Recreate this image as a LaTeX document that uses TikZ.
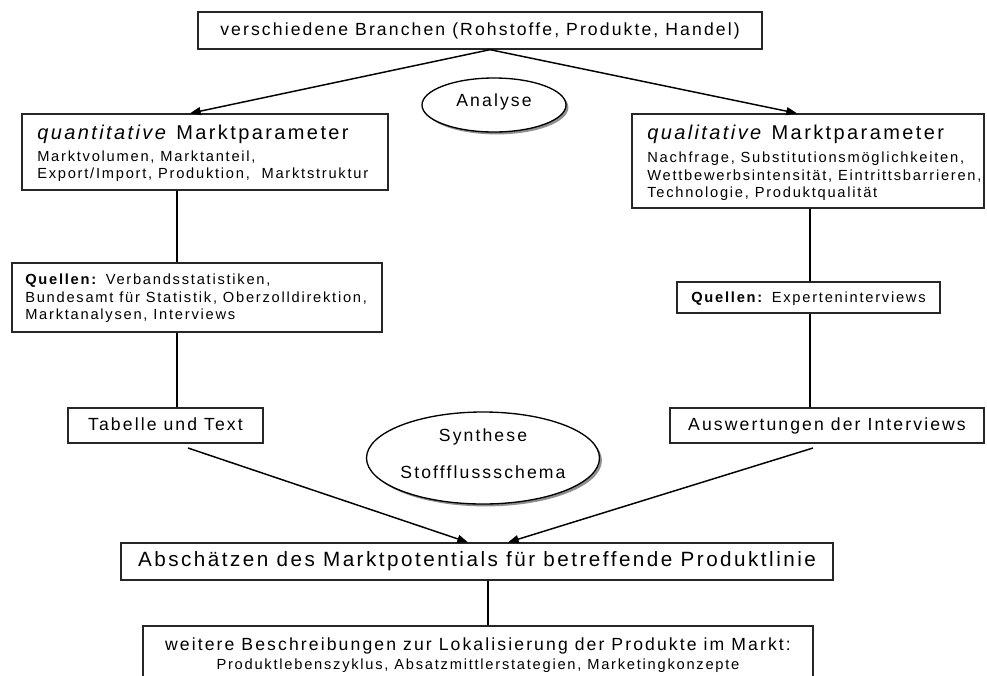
\documentclass[tikz,border=0pt]{standalone}
\usepackage{fontspec}
\setmainfont{Liberation Sans}[LetterSpace=12]
\usetikzlibrary{shapes.geometric,shadows,arrows.meta}

\begin{document}
\begin{tikzpicture}[x=0.75pt,y=-0.75pt,
  box/.style={draw=black!85,line width=1pt,rectangle,inner sep=0pt,fill=white,
              text height=0.72em,text depth=0pt},
  oval/.style={draw=black,line width=1pt,ellipse,inner sep=0pt,fill=white,
              drop shadow={shadow xshift=1.8pt,shadow yshift=-1.8pt,fill=black!55,opacity=0.8}},
  conn/.style={line width=1.1pt,black},
  arr/.style={conn,-{Triangle[length=8pt,width=6pt]}},
  tl/.style={inner sep=0pt,anchor=west,text height=0.72em,text depth=0pt},
  tc/.style={inner sep=0pt,anchor=center,text height=0.72em,text depth=0pt},
  fsmall/.style={font=\fontsize{11pt}{13pt}\selectfont},
  fmid/.style={font=\fontsize{13.2pt}{16pt}\selectfont},
  fbig/.style={font=\fontsize{15pt}{18pt}\selectfont},
  fhead/.style={font=\fontsize{15.5pt}{18pt}\selectfont},
]
\useasboundingbox (0,0) rectangle (987,675);
\clip (0,0) rectangle (987,675);

% top: industries
\node[box,fmid,minimum width=564*0.75pt,minimum height=37*0.75pt] (top) at (480,30.5)
  {verschiedene Branchen (Rohstoffe, Produkte, Handel)};

% analysis branch, left
\node[box,minimum width=366*0.75pt,minimum height=76*0.75pt] (quant) at (205,152) {};
\node[tl,fbig] (quantT) at (37,135) {\textit{quantitative} Marktparameter};
\node[tl,fsmall] (quantA) at (37,157) {Marktvolumen, Marktanteil,};
\node[tl,fsmall] (quantB) at (37,174) {Export/Import, Produktion, \ Marktstruktur};

\node[box,minimum width=370*0.75pt,minimum height=69*0.75pt] (qL) at (197,297.5) {};
\node[tl,fsmall] (qLA) at (25,280) {\textbf{Quellen:} Verbandsstatistiken,};
\node[tl,fsmall] (qLB) at (25,298) {Bundesamt für Statistik, Oberzolldirektion,};
\node[tl,fsmall] (qLC) at (25,315) {Marktanalysen, Interviews};

\node[box,fmid,minimum width=195*0.75pt,minimum height=35*0.75pt] (tab) at (165.5,425.5)
  {Tabelle und Text};

% analysis branch, right
\node[box,minimum width=352*0.75pt,minimum height=94*0.75pt] (qual) at (808,161) {};
\node[tl,fbig] (qualT) at (647,135) {\textit{qualitative} Marktparameter};
\node[tl,fsmall] (qualA) at (647,158) {Nachfrage, Substitutionsmöglichkeiten,};
\node[tl,fsmall] (qualB) at (647,176) {Wettbewerbsintensität, Eintrittsbarrieren,};
\node[tl,fsmall] (qualC) at (647,193) {Technologie, Produktqualität};

\node[box,fsmall,minimum width=263*0.75pt,minimum height=31*0.75pt] (qR) at (808.5,297.5)
  {\textbf{Quellen:} Experteninterviews};

\node[box,fmid,minimum width=314*0.75pt,minimum height=35*0.75pt] (ausw) at (827,425.5)
  {Auswertungen der Interviews};

% labels of the two phases
\node[oval,minimum width=144*0.75pt,minimum height=54*0.75pt] (ana) at (494,105) {};
\node[tc,fmid] (anaT) at (494,102) {Analyse};

\node[oval,minimum width=233*0.75pt,minimum height=92*0.75pt] (syn) at (483,458) {};
\node[tc,fmid] (synA) at (483,437) {Synthese};
\node[tc,fmid] (synB) at (483,474) {Stoffflussschema};

% result
\node[box,fhead,minimum width=712*0.75pt,minimum height=37*0.75pt] (absch) at (477,561.5)
  {Abschätzen des Marktpotentials für betreffende Produktlinie};

\node[box,minimum width=670*0.75pt,minimum height=80*0.75pt] (weit) at (478,666) {};
\node[tc,fmid] (weitA) at (478,646) {weitere Beschreibungen zur Lokalisierung der Produkte im Markt:};
\node[tc,fsmall] (weitB) at (478,665) {Produktlebenszyklus, Absatzmittlerstategien, Marketingkonzepte};

% connectors
\coordinate (ax) at (490,0);
\coordinate (tlx) at (190,0);
\coordinate (trx) at (797,0);
\coordinate (lx) at (177,0);
\coordinate (rx) at (810,0);
\coordinate (sL) at (188,448);
\coordinate (sR) at (813,448);
\coordinate (eLx) at (468,0);
\coordinate (eRx) at (508,0);
\coordinate (mx) at (488,0);

\draw[arr] (top.south -| ax) -- (quant.north -| tlx);
\draw[arr] (top.south -| ax) -- (qual.north -| trx);
\draw[conn] (quant.south -| lx) -- (qL.north -| lx);
\draw[conn] (qL.south -| lx) -- (tab.north -| lx);
\draw[conn] (qual.south -| rx) -- (qR.north -| rx);
\draw[conn] (qR.south -| rx) -- (ausw.north -| rx);
\draw[arr] (sL) -- (absch.north -| eLx);
\draw[arr] (sR) -- (absch.north -| eRx);
\draw[conn] (absch.south -| mx) -- (weit.north -| mx);
\end{tikzpicture}
\end{document}
